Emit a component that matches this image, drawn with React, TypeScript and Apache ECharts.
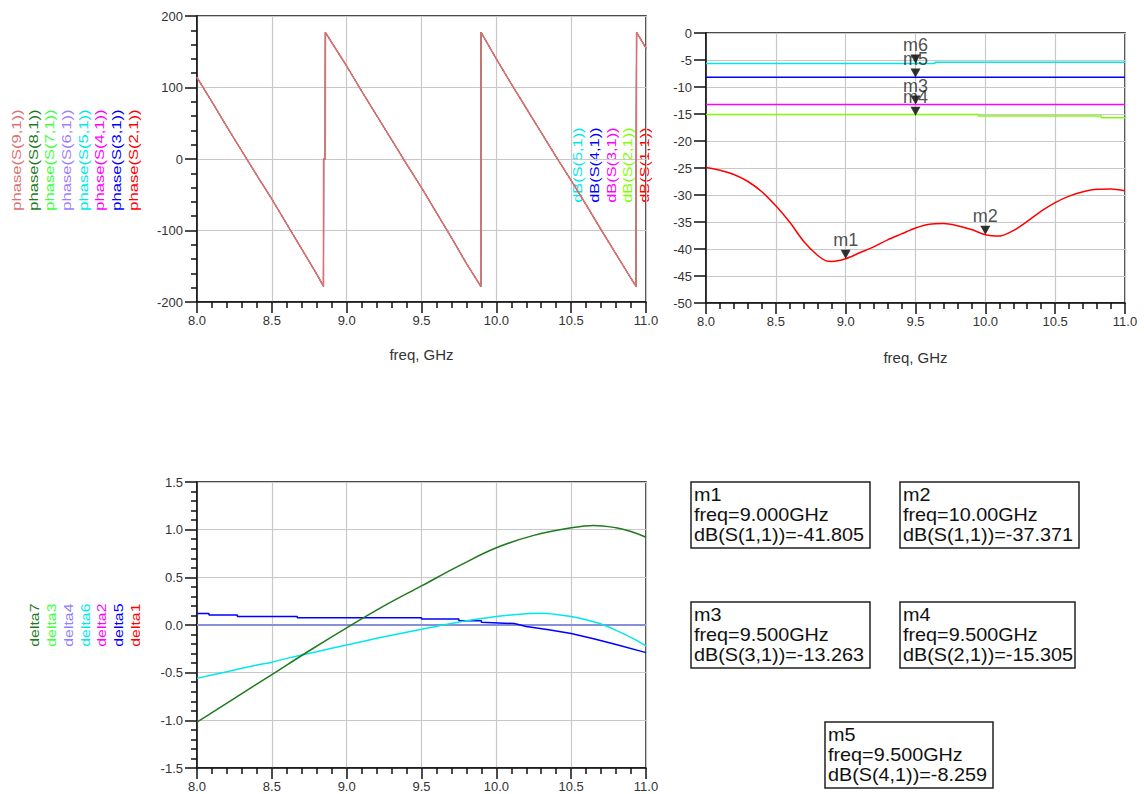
import React, { useEffect, useRef } from "react";
import * as echarts from "echarts";

// ---------- DATA ----------
const freqTicks = [8.0, 8.5, 9.0, 9.5, 10.0, 10.5, 11.0];

// Top-left: phase of S(n,1), all traces overlap
const phaseNames = ["phase(S(9,1))", "phase(S(8,1))", "phase(S(7,1))", "phase(S(6,1))", "phase(S(5,1))", "phase(S(4,1))", "phase(S(3,1))", "phase(S(2,1))"];
const phaseColors = ["#e07070", "#1f7a1f", "#40ff40", "#a080ff", "#00e8e8", "#ff00ff", "#0000ff", "#ff0000"];
const phaseFreq = [8.0, 8.1, 8.2, 8.3, 8.4, 8.5, 8.6, 8.7, 8.8, 8.845, 8.846, 8.857, 8.858, 8.9, 9.0, 9.1, 9.2, 9.3, 9.4, 9.5, 9.6, 9.7, 9.8, 9.896, 9.898, 10.0, 10.1, 10.2, 10.3, 10.4, 10.5, 10.6, 10.7, 10.8, 10.9, 10.933, 10.937, 11.0];
const phaseDeg = [114, 80, 45, 11, -23, -56, -91, -126, -161, -178, 0, 0, 177, 163, 130, 95, 61, 27, -7, -40, -75, -110, -146, -178, 177, 140, 105, 71, 37, 3, -30, -64, -99, -133, -167, -178, 177, 155];

// Top-right: dB(S(n,1))
const dbNames = ["dB(S(5,1))", "dB(S(4,1))", "dB(S(3,1))", "dB(S(2,1))", "dB(S(1,1))"];
const dbColors = ["#00e8e8", "#0000ff", "#ff00ff", "#80ff00", "#ff0000"];
const s11Freq = [8.0, 8.1, 8.2, 8.3, 8.4, 8.5, 8.6, 8.7, 8.8, 8.86, 8.9, 9.0, 9.1, 9.2, 9.3, 9.4, 9.5, 9.6, 9.7, 9.8, 9.9, 10.0, 10.1, 10.2, 10.3, 10.4, 10.5, 10.6, 10.7, 10.8, 10.9, 11.0];
const s11dB = [-24.9, -25.4, -26.2, -27.5, -29.4, -32.0, -35.05, -38.6, -41.2, -42.2, -42.3, -41.8, -40.7, -39.6, -38.3, -37.2, -36.1, -35.4, -35.3, -35.7, -36.4, -37.37, -37.6, -36.6, -34.9, -33.0, -31.4, -30.2, -29.4, -28.95, -28.9, -29.2];
const s21Freq = [8.0, 9.95, 9.95, 10.83, 10.83, 11.0];
const s21dB = [-15.1, -15.1, -15.35, -15.35, -15.7, -15.7];
const s31Freq = [8.0, 11.0];
const s31dB = [-13.263, -13.263];
const s41Freq = [8.0, 11.0];
const s41dB = [-8.2, -8.2];
const s51Freq = [8.0, 9.64, 9.64, 11.0];
const s51dB = [-5.67, -5.67, -5.43, -5.43];

// Markers
const markerNames = ["m1", "m2", "m3", "m4", "m5", "m6"];
const markerFreq = [9.0, 10.0, 9.5, 9.5, 9.5, 9.5];
const markerTrace = ["dB(S(1,1))", "dB(S(1,1))", "dB(S(3,1))", "dB(S(2,1))", "dB(S(4,1))", "dB(S(5,1))"];
const markerVal = [-41.805, -37.371, -13.263, -15.305, -8.259, -5.67];

// Bottom-left: deltas
const deltaNames = ["delta7", "delta3", "delta4", "delta6", "delta2", "delta5", "delta1"];
const deltaColors = ["#1f7a1f", "#40ff40", "#9080ff", "#00e8e8", "#ff00ff", "#0000ff", "#ff0000"];
const d7Freq = [8.0, 8.25, 8.5, 8.75, 9.0, 9.25, 9.5, 9.75, 10.0, 10.25, 10.5, 10.65, 10.8, 10.9, 11.0];
const d7Val = [-1.02, -0.77, -0.52, -0.27, -0.03, 0.2, 0.41, 0.62, 0.81, 0.94, 1.02, 1.045, 1.02, 0.98, 0.92];
const d6Freq = [8.0, 8.2, 8.4, 8.5, 8.6, 8.8, 9.0, 9.2, 9.4, 9.5, 9.6, 9.8, 10.0, 10.2, 10.3, 10.4, 10.5, 10.6, 10.7, 10.8, 10.9, 11.0];
const d6Val = [-0.56, -0.49, -0.42, -0.39, -0.35, -0.28, -0.21, -0.14, -0.075, -0.045, -0.015, 0.045, 0.09, 0.118, 0.122, 0.11, 0.088, 0.055, 0.01, -0.056, -0.13, -0.22];
const d5Freq = [8.0, 8.08, 8.08, 8.27, 8.27, 8.67, 8.67, 9.5, 9.5, 9.75, 9.75, 9.9, 9.9, 10.12, 10.2, 10.35, 10.5, 10.65, 10.8, 11.0];
const d5Val = [0.12, 0.12, 0.105, 0.105, 0.09, 0.09, 0.075, 0.075, 0.063, 0.063, 0.045, 0.045, 0.03, 0.015, -0.015, -0.05, -0.09, -0.145, -0.205, -0.29];
const dZeroFreq = [8.0, 11.0];
const dZeroVal = [0, 0];

// ---------- HELPERS ----------
const FONT = "'Liberation Sans', Arial, sans-serif";
const pairs = (xs: number[], ys: number[]) => xs.map((x, i) => [x, ys[i]]);

function xAxisCfg(gridIndex: number, withName: boolean, nameGap: number) {
  return {
    type: "value",
    gridIndex,
    min: freqTicks[0],
    max: freqTicks[freqTicks.length - 1],
    interval: 0.5,
    axisLine: { show: true, onZero: false, lineStyle: { color: "#111", width: 1.5 } },
    axisTick: { show: true, length: 11, lineStyle: { color: "#111", width: 1.5 } },
    minorTick: { show: true, splitNumber: 5, length: 6, lineStyle: { color: "#111", width: 1.5 } },
    splitLine: { show: true, lineStyle: { color: "#c8c8c8", width: 1.2 } },
    minorSplitLine: { show: false },
    axisLabel: { formatter: (v: number) => v.toFixed(1), margin: 12, fontSize: 13, color: "#333", fontFamily: FONT },
    name: withName ? "freq, GHz" : "",
    nameLocation: "middle",
    nameGap,
    nameTextStyle: { fontSize: 15, color: "#333", fontFamily: FONT },
  };
}

function yAxisCfg(gridIndex: number, min: number, max: number, interval: number, minor: boolean, digits: number) {
  return {
    type: "value",
    gridIndex,
    min,
    max,
    interval,
    axisLine: { show: true, onZero: false, lineStyle: { color: "#111", width: 1.5 } },
    axisTick: { show: true, length: 12, lineStyle: { color: "#111", width: 1.5 } },
    minorTick: { show: minor, splitNumber: 5, length: 6, lineStyle: { color: "#111", width: 1.5 } },
    splitLine: { show: true, lineStyle: { color: "#c8c8c8", width: 1.2 } },
    axisLabel: { formatter: (v: number) => v.toFixed(digits), margin: 14, fontSize: 13, color: "#333", fontFamily: FONT },
  };
}

function lineSeries(name: string, xi: number, data: number[][], color: string, smooth: number | boolean = false, width = 1.5) {
  return {
    name,
    type: "line",
    xAxisIndex: xi,
    yAxisIndex: xi,
    data,
    symbol: "none",
    showSymbol: false,
    smooth,
    lineStyle: { color, width },
    itemStyle: { color },
  };
}

function rotatedLegend(names: string[], colors: string[], x0: number, step: number, bottom: number, scale: number) {
  return names.map((t, i) => ({
    type: "text",
    x: x0 + i * step,
    y: bottom,
    rotation: Math.PI / 2,
    scaleX: scale,
    style: { text: t, fill: colors[i], font: `12px ${FONT}`, align: "left", verticalAlign: "middle" },
  }));
}

const boxLayout = [
  [691, 482, 179, 66],
  [900, 482, 179, 66],
  [691, 602, 179, 66],
  [900, 602, 175, 66],
  [825, 722, 168, 66],
];

export default function App() {
  const ref = useRef<HTMLDivElement>(null);
  useEffect(() => {
    if (!ref.current) return;
    const chart = echarts.init(ref.current, undefined, { renderer: "svg" });

    const phaseSeries = phaseNames
      .map((n, i) => lineSeries(n, 0, pairs(phaseFreq, phaseDeg), phaseColors[i], false, i === 0 ? 1.6 : 0.8))
      .reverse();

    const dbSeries = [
      lineSeries(dbNames[4], 1, pairs(s11Freq, s11dB), dbColors[4], 0.3),
      lineSeries(dbNames[3], 1, pairs(s21Freq, s21dB), dbColors[3]),
      lineSeries(dbNames[2], 1, pairs(s31Freq, s31dB), dbColors[2]),
      lineSeries(dbNames[1], 1, pairs(s41Freq, s41dB), dbColors[1]),
      lineSeries(dbNames[0], 1, pairs(s51Freq, s51dB), dbColors[0]),
    ];

    const markerSeries = {
      type: "scatter",
      xAxisIndex: 1,
      yAxisIndex: 1,
      symbol: "path://M0,0L10,0L5,9Z",
      symbolSize: [10, 9],
      symbolOffset: [0, -4.5],
      itemStyle: { color: "#000" },
      z: 10,
      label: {
        show: true,
        position: "top",
        distance: 1,
        formatter: "{b}",
        fontSize: 18,
        color: "#222",
        fontFamily: FONT,
      },
      data: markerNames.map((n, i) => ({ name: n, value: [markerFreq[i], markerVal[i]] })),
    };

    const deltaSeries = [
      lineSeries("delta1", 2, pairs(dZeroFreq, dZeroVal), deltaColors[6]),
      lineSeries("delta2", 2, pairs(dZeroFreq, dZeroVal), deltaColors[4]),
      lineSeries("delta3", 2, pairs(dZeroFreq, dZeroVal), deltaColors[1]),
      lineSeries("delta4", 2, pairs(dZeroFreq, dZeroVal), deltaColors[2]),
      lineSeries("delta5", 2, pairs(d5Freq, d5Val), deltaColors[5]),
      lineSeries("delta6", 2, pairs(d6Freq, d6Val), deltaColors[3], 0.3),
      lineSeries("delta7", 2, pairs(d7Freq, d7Val), deltaColors[0], 0.4),
    ];

    const boxes: any[] = [];
    boxLayout.forEach((b, i) => {
      boxes.push({
        type: "rect",
        shape: { x: b[0], y: b[1], width: b[2], height: b[3] },
        style: { fill: "#fff", stroke: "#222", lineWidth: 1.5 },
        z: 5,
      });
      boxes.push({
        type: "text",
        x: b[0] + 3,
        y: b[1] + 3,
        scaleX: 1.1,
        z: 6,
        style: {
          text: `${markerNames[i]}\nfreq=${markerFreq[i].toPrecision(4)}GHz\n${markerTrace[i]}=${markerVal[i].toFixed(3)}`,
          font: `18px ${FONT}`,
          lineHeight: 20,
          fill: "#111",
          align: "left",
          verticalAlign: "top",
        },
      });
    });

    const option: any = {
      animation: false,
      backgroundColor: "#fff",
      textStyle: { fontFamily: FONT },
      grid: [
        { left: 197, top: 16, width: 449, height: 286, show: true, borderColor: "#111", borderWidth: 1.5, backgroundColor: "transparent" },
        { left: 706, top: 33, width: 419, height: 270, show: true, borderColor: "#111", borderWidth: 1.5, backgroundColor: "transparent" },
        { left: 197, top: 482, width: 449, height: 286, show: true, borderColor: "#111", borderWidth: 1.5, backgroundColor: "transparent" },
      ],
      xAxis: [xAxisCfg(0, true, 45), xAxisCfg(1, true, 47), xAxisCfg(2, false, 30)],
      yAxis: [
        yAxisCfg(0, -200, 200, 100, true, 0),
        yAxisCfg(1, -50, 0, 5, false, 0),
        yAxisCfg(2, -1.5, 1.5, 0.5, true, 1),
      ],
      series: [...phaseSeries, ...dbSeries, markerSeries, ...deltaSeries],
      graphic: [
        ...rotatedLegend(phaseNames, phaseColors, 16.7, 16.67, 210.7, 1.38),
        ...rotatedLegend(dbNames, dbColors, 578.3, 16.67, 202.7, 1.36),
        ...rotatedLegend(deltaNames, deltaColors, 35, 16.8, 646.7, 1.32),
        ...boxes,
      ],
    };
    chart.setOption(option);
    return () => chart.dispose();
  }, []);

  return (
    <div
      ref={ref}
      style={{ position: "fixed", left: 0, top: 0, width: 1144, height: 794, background: "#fff" }}
    />
  );
}
